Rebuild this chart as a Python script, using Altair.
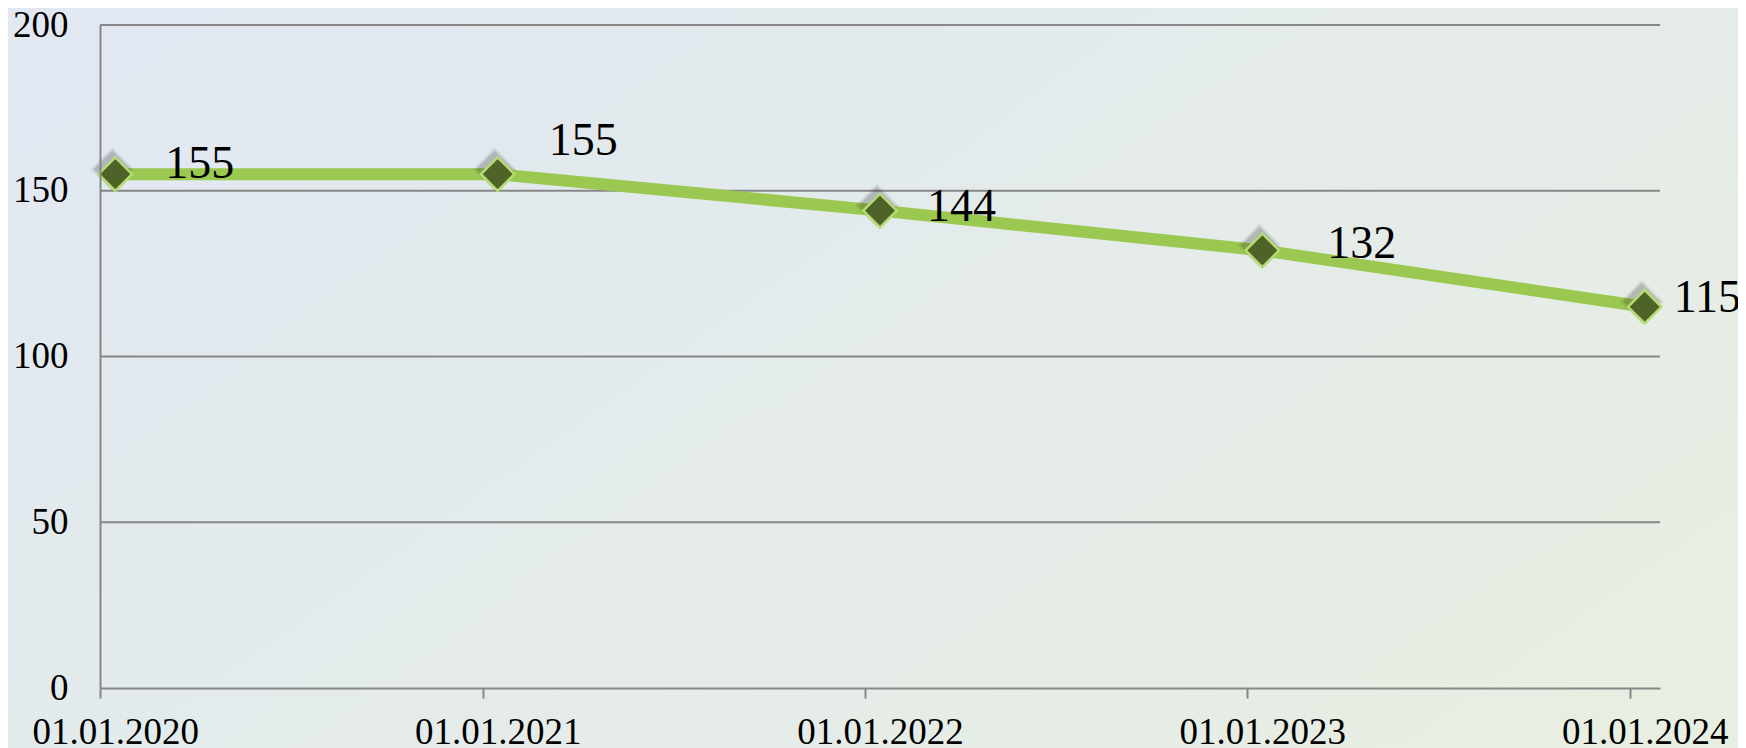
import altair as alt
import pandas as pd

# ---- data ----
dates = ["01.01.2020", "01.01.2021", "01.01.2022", "01.01.2023", "01.01.2024"]
values = [155, 155, 144, 132, 115]
y_ticks = [0, 50, 100, 150, 200]
grid_vals = [50, 100, 150, 200]

# label nudges (style): pixel offsets of each data label from its point
label_dx = [50, 51, 47, 65, 29]
label_dy = [-10, -33, -4, -6, -9]

W, H = 1560, 663
PAD = {"left": 92, "top": 17, "right": 78, "bottom": 60}
FONT = "Liberation Serif"

df = pd.DataFrame({"date": dates, "value": values})

xscale = alt.Scale(type="point", domain=dates, padding=0.04)
yscale = alt.Scale(domain=[0, 200], nice=False, zero=True)

yaxis = alt.Axis(title=None, values=y_ticks, labelFont=FONT, labelFontSize=37,
                 labelColor="black", domainColor="#878787", domainWidth=2,
                 ticks=False, labelPadding=32, grid=False, zindex=1)
xaxis = alt.Axis(title=None, labelAngle=0, labelFont=FONT, labelFontSize=37,
                 labelColor="black", domainColor="#878787", domainWidth=2,
                 tickColor="#878787", tickWidth=2, tickSize=10,
                 tickOffset=-15, labelOffset=15, labelPadding=16,
                 grid=False, zindex=1)

bg_grad = alt.LinearGradient(
    gradient="linear",
    stops=[alt.GradientStop(color="#e1e8f1", offset=0),
           alt.GradientStop(color="#e4ebea", offset=0.5),
           alt.GradientStop(color="#e8eee2", offset=1)],
    x1=0, x2=1, y1=0.2, y2=0.8,
)

background = alt.Chart(alt.Data(values=[{}])).mark_rect(color=bg_grad, clip=False).encode(
    x=alt.value(-PAD["left"]), x2=alt.value(W + PAD["right"]),
    y=alt.value(-PAD["top"]), y2=alt.value(H + PAD["bottom"]),
)

grid = alt.Chart(pd.DataFrame({"g": grid_vals})).mark_rule(
    color="#878787", strokeWidth=2
).encode(
    y=alt.Y("g:Q", scale=yscale, axis=yaxis),
    x=alt.value(0), x2=alt.value(W),
)

base = alt.Chart(df).encode(
    x=alt.X("date:N", scale=xscale, sort=dates, axis=xaxis),
    y=alt.Y("value:Q", scale=yscale, axis=yaxis),
)

line = base.mark_line(color="#9bc850", strokeWidth=12)

shadow1 = base.mark_point(shape="diamond", filled=True, color="#2a2a2a", opacity=0.10,
                          size=1900, xOffset=-3, yOffset=-5)
shadow2 = base.mark_point(shape="diamond", filled=True, color="#2a2a2a", opacity=0.18,
                          size=1400, xOffset=-3, yOffset=-5)

markers = base.mark_point(shape="diamond", filled=True, fill="#4f6228", stroke="#b5dc72",
                          strokeWidth=2.5, size=1120, opacity=1)

label_layers = []
for i, d in enumerate(dates):
    label_layers.append(
        base.transform_filter(alt.datum.date == d).mark_text(
            align="left", baseline="middle", font=FONT, fontSize=46, color="black",
            dx=label_dx[i], dy=label_dy[i]
        ).encode(text=alt.Text("value:Q"))
    )

chart = alt.layer(background, grid, line, shadow1, shadow2, markers, *label_layers).properties(
    width=W, height=H, padding=PAD, autosize=alt.AutoSizeParams(type="none"),
    background="#e4eaea",
).configure_view(stroke=None)

chart.save("out.html", embed_options={"renderer": "svg", "actions": False})
